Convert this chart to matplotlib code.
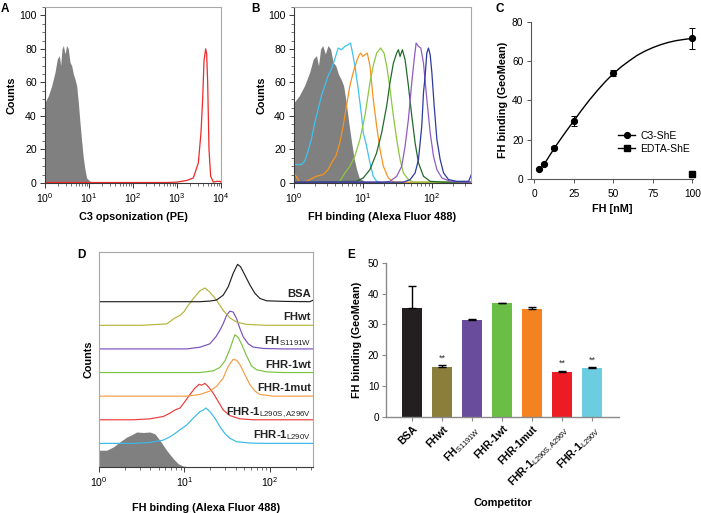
import numpy as np
import matplotlib.pyplot as plt
from matplotlib.ticker import LogLocator, MultipleLocator, NullFormatter, NullLocator

plt.rcParams["font.family"] = ["Liberation Sans", "DejaVu Sans"]
plt.rcParams["mathtext.fontset"] = "custom"
plt.rcParams["mathtext.rm"] = "Liberation Sans"
plt.rcParams["mathtext.bf"] = "Liberation Sans:bold"
plt.rcParams["mathtext.it"] = "Liberation Sans:italic"

W, H = 701, 513
LABEL_SIZE = 7.8
TICK_SIZE = 7.6
PANEL_SIZE = 8.5
DARK = "#3a3a3a"
LIGHT = "#a8a8a8"

# ------------------------------------------------------------------------------------------------------------- #
# Data (histogram positions as log10 of fluorescence intensity)
# ------------------------------------------------------------------------------------------------------------- #
# control histogram shared by A and B
gray_log = [0.0, 0.076, 0.152, 0.227, 0.280, 0.326, 0.356, 0.386, 0.417, 0.455, 0.492, 0.530, 0.568,
            0.606, 0.644, 0.682, 0.720, 0.758, 0.795, 0.833, 0.871, 0.909, 0.947, 1.023, 1.250, 1.477]
gray_counts = [48, 52, 58, 66, 74, 76, 70, 80, 82, 77, 82, 80, 72, 70, 65, 62, 58, 48, 36, 25, 15, 8, 3,
               1, 0.3, 0]

# A: C3 opsonized
c3_log = [0.0, 2.765, 2.992, 3.220, 3.371, 3.485, 3.545, 3.583, 3.614, 3.652, 3.674, 3.697, 3.727,
          3.765, 3.826, 3.902, 3.977, 4.0]
c3_counts = [0.3, 0.3, 0.5, 1.5, 3, 12, 30, 50, 73, 80, 77, 60, 20, 4, 0.5, 1, 1, 0.5]

# B: FH titration
b_cyan_log = [0.0, 0.01, 0.034, 0.107, 0.155, 0.204, 0.252, 0.301, 0.350, 0.398, 0.447, 0.495, 0.544,
              0.592, 0.641, 0.689, 0.738, 0.786, 0.820, 0.850, 0.883, 0.932, 0.981, 1.005, 1.053, 1.102,
              1.150, 1.199, 1.296, 2.57]
b_cyan_counts = [89, 11, 11, 11, 13, 19, 26, 36, 44, 52, 58, 64, 68, 74, 80.5, 79.5, 81.5, 82.5, 83.5,
                 77.5, 70, 56, 40, 30, 22, 12, 4, 1, 0, 0]
b_orange_log = [0.0, 0.083, 0.180, 0.325, 0.422, 0.495, 0.544, 0.607, 0.665, 0.714, 0.762, 0.811, 0.859,
                0.908, 0.947, 0.971, 0.995, 1.029, 1.063, 1.102, 1.150, 1.199, 1.248, 1.296, 1.369, 1.442,
                2.57]
b_orange_counts = [6, 0.5, 1, 4, 5, 8, 12, 16, 24, 34, 46, 58, 66, 72.5, 76.5, 77.5, 75.5, 76.5, 77.5, 70,
                   50, 34, 20, 10, 3, 0.5, 0.5]
b_lgreen_log = [0.0, 0.519, 0.665, 0.738, 0.811, 0.883, 0.956, 1.029, 1.102, 1.150, 1.199, 1.257, 1.306,
                1.345, 1.393, 1.442, 1.490, 1.539, 1.587, 1.660, 1.733, 2.57]
b_lgreen_counts = [0.5, 0.5, 1, 6, 10, 16, 26, 40, 60, 70, 77.5, 80.5, 77.5, 70, 56, 40, 26, 14, 6, 2,
                   0.5, 0.5]
b_dgreen_log = [0.0, 0.908, 1.005, 1.102, 1.199, 1.272, 1.345, 1.393, 1.442, 1.490, 1.515, 1.539, 1.573,
                1.612, 1.660, 1.709, 1.757, 1.806, 1.879, 1.976, 2.170, 2.57]
b_dgreen_counts = [0.5, 1, 3, 8, 18, 30, 46, 60, 71.5, 77.5, 79.5, 75.5, 79.5, 73.5, 58, 40, 24, 12, 4, 1,
                   0.5, 0.5]
b_purple_log = [0.0, 1.296, 1.393, 1.490, 1.563, 1.612, 1.660, 1.709, 1.743, 1.772, 1.806, 1.840, 1.879,
                1.927, 1.976, 2.024, 2.073, 2.146, 2.267, 2.461, 2.57]
b_purple_counts = [0.5, 0.5, 1, 4, 10, 22, 38, 60, 73.5, 83.5, 81.5, 80.5, 71.5, 50, 30, 16, 8, 3, 1,
                   0.5, 0.5]
b_blue_log = [0.0, 1.587, 1.684, 1.757, 1.806, 1.854, 1.879, 1.903, 1.927, 1.951, 1.976, 2.0, 2.034,
              2.073, 2.121, 2.170, 2.243, 2.364, 2.534, 2.573]
b_blue_counts = [0.5, 0.5, 2, 6, 14, 34, 54, 64, 77.5, 80.5, 76.5, 66, 46, 26, 14, 6, 2, 1, 1, 5]

# C: binding curve
fh_nm = [3.125, 6.25, 12.5, 25, 50, 100]
fh_geomean = [5.0, 7.5, 16.0, 29.5, 54.0, 71.5]
fh_err = [0.3, 0.5, 0.8, 2.5, 1.5, 5.5]
edta_nm = [100]
edta_geomean = [2.5]
fit_nm = [3, 5, 7.5, 10, 12.5, 15, 20, 25, 30, 35, 40, 45, 50, 55, 60, 65, 70, 75, 80, 85, 90, 95, 100]
fit_geomean = [4.5, 6.3, 9.0, 12.2, 15.3, 18.3, 24.0, 29.5, 35.0, 40.2, 45.0, 49.5, 53.5, 57.0, 60.0, 62.8,
               65.0, 66.8, 68.3, 69.5, 70.4, 71.0, 71.5]

# D: competition histograms (bottom to top)
d_gray_log = [0.0, 0.006, 0.090, 0.168, 0.246, 0.324, 0.402, 0.441, 0.519, 0.596, 0.655, 0.713, 0.791,
              0.869, 0.928, 0.986, 1.064]
d_gray_counts = [99, 36, 36, 43, 54, 64, 71, 75, 74, 75, 71, 57, 36, 18, 7, 2, 0]
d_l290v_log = [0.0, 0.402, 0.596, 0.752, 0.830, 0.889, 0.947, 1.025, 1.103, 1.181, 1.220, 1.251, 1.298,
               1.357, 1.415, 1.474, 1.532, 1.610, 1.766, 1.961, 2.51]
d_l290v_counts = [0, 0, 2, 7, 14, 21, 29, 39, 54, 68, 71, 76, 68, 54, 36, 21, 11, 3.6, 0.7, 0, 0]
d_l290s_log = [0.0, 0.402, 0.596, 0.752, 0.830, 0.889, 0.947, 1.006, 1.064, 1.123, 1.173, 1.201, 1.240,
               1.279, 1.337, 1.396, 1.454, 1.532, 1.649, 1.805, 2.51]
d_l290s_counts = [0, 0, 2, 7, 14, 21, 25, 39, 54, 68, 76, 74, 78, 71, 57, 39, 21, 9, 2, 0, 0]
d_mut_log = [0.0, 1.025, 1.181, 1.298, 1.376, 1.454, 1.513, 1.571, 1.610, 1.649, 1.708, 1.766, 1.825,
             1.883, 2.039, 2.51]
d_mut_counts = [0, 0, 3.6, 11, 21, 39, 64, 79, 77, 68, 46, 25, 11, 3.6, 0, 0]
d_fhr1wt_log = [0.0, 1.181, 1.337, 1.415, 1.474, 1.532, 1.571, 1.591, 1.630, 1.669, 1.727, 1.786, 1.844,
                1.961, 2.156, 2.51]
d_fhr1wt_counts = [0, 0, 3.6, 11, 25, 50, 71, 81, 75, 61, 36, 14, 6, 1.4, 0, 0]
d_s1191w_log = [0.0, 1.025, 1.181, 1.298, 1.368, 1.415, 1.454, 1.493, 1.532, 1.571, 1.610, 1.649, 1.688,
                1.747, 1.805, 1.922, 2.156, 2.51]
d_s1191w_counts = [0, 0, 3.6, 11, 26, 40, 54, 72, 81, 79, 65, 44, 26, 11, 4, 1, 0, 0]
d_fhwt_log = [0.0, 0.48, 0.635, 0.791, 0.830, 0.889, 0.947, 0.994, 1.045, 1.103, 1.181, 1.240, 1.298,
              1.376, 1.454, 1.532, 1.610, 1.727, 1.961, 2.51]
d_fhwt_counts = [0, 0, 1.4, 3, 8, 16, 21, 29, 43, 57, 74, 80, 71, 54, 32, 16, 7, 2, 0, 0]
d_bsa_log = [0.0, 1.181, 1.298, 1.376, 1.454, 1.513, 1.571, 1.622, 1.657, 1.708, 1.766, 1.825, 1.883,
             1.961, 2.156, 2.468, 2.51]
d_bsa_counts = [0, 0, 1.4, 3.6, 14, 32, 61, 80, 75, 57, 36, 18, 7, 2, 0.7, 0, 3.5]

d_labels = [r"FHR-1$_{\mathrm{L290V}}$", r"FHR-1$_{\mathrm{L290S,A296V}}$", "FHR-1mut", "FHR-1wt",
            r"FH$_{\mathrm{S1191W}}$", "FHwt", "BSA"]
d_colors = ["#3ab8ea", "#ee3b3b", "#f79d45", "#7cc242", "#7a4fc0", "#b3b43c", "#222222"]

# E: competitor bars
competitors = ["BSA", "FHwt", r"FH$_{\mathrm{S1191W}}$", "FHR-1wt", "FHR-1mut",
               r"FHR-1$_{\mathrm{L290S,A296V}}$", r"FHR-1$_{\mathrm{L290V}}$"]
comp_geomean = [35.2, 16.2, 31.4, 36.8, 35.0, 14.6, 15.7]
comp_err = [7.2, 0.6, 0.2, 0.2, 0.7, 0.4, 0.3]
comp_signif = ["", "**", "", "", "", "**", "**"]
comp_colors = ["#231f20", "#8b7d3a", "#6a4c9c", "#6abd45", "#f58220", "#ed1c24", "#6dcde0"]


# ------------------------------------------------------------------------------------------------------------- #
def px_axes(fig, left, top, right, bottom):
    return fig.add_axes([left / W, 1 - bottom / H, (right - left) / W, (bottom - top) / H])


def style_hist_axes(ax, box_color=LIGHT):
    for s in ["top", "right"]:
        ax.spines[s].set_color(box_color)
        ax.spines[s].set_linewidth(0.8)
    for s in ["left", "bottom"]:
        ax.spines[s].set_color(DARK)
        ax.spines[s].set_linewidth(0.8)
    ax.tick_params(which="major", length=3.5, width=0.7, color=DARK, labelsize=TICK_SIZE, pad=2.5)
    ax.tick_params(which="minor", length=2, width=0.5, color=DARK)
    ax.set_xscale("log")
    ax.xaxis.set_major_locator(LogLocator(base=10, numticks=10))
    ax.xaxis.set_minor_locator(LogLocator(base=10, subs=np.arange(2, 10), numticks=10))
    ax.xaxis.set_minor_formatter(NullFormatter())


fig = plt.figure(figsize=(W / 100, H / 100), dpi=100)

# ---------------------------------- A ----------------------------------
axA = px_axes(fig, 45, 7, 221, 183)
style_hist_axes(axA)
axA.fill_between(10 ** np.array(gray_log), gray_counts, color="#808080", lw=0)
axA.plot(10 ** np.array(c3_log), c3_counts, color="#ee2a2a", lw=0.9)
axA.set_xlim(1, 1e4)
axA.set_ylim(0, 105)
axA.yaxis.set_major_locator(MultipleLocator(20))
axA.yaxis.set_minor_locator(MultipleLocator(5))
axA.set_xlabel("C3 opsonization (PE)", fontsize=LABEL_SIZE, fontweight="bold", labelpad=5)
axA.set_ylabel("Counts", fontsize=LABEL_SIZE, fontweight="bold", labelpad=2)

# ---------------------------------- B ----------------------------------
axB = px_axes(fig, 294, 7, 471, 183)
style_hist_axes(axB)
axB.fill_between(10 ** np.array(gray_log), gray_counts, color="#808080", lw=0)
for lg, ct, col in [(b_cyan_log, b_cyan_counts, "#3cc3f0"), (b_orange_log, b_orange_counts, "#f7931e"),
                    (b_lgreen_log, b_lgreen_counts, "#8cc63f"), (b_dgreen_log, b_dgreen_counts, "#1f6b2b"),
                    (b_purple_log, b_purple_counts, "#8e5cc4"), (b_blue_log, b_blue_counts, "#2e3a9e")]:
    axB.plot(10 ** np.array(lg), ct, color=col, lw=0.9)
axB.set_xlim(1, 370)
axB.set_ylim(0, 105)
axB.yaxis.set_major_locator(MultipleLocator(20))
axB.yaxis.set_minor_locator(MultipleLocator(5))
axB.set_xlabel("FH binding (Alexa Fluor 488)", fontsize=LABEL_SIZE, fontweight="bold", labelpad=5)
axB.set_ylabel("Counts", fontsize=LABEL_SIZE, fontweight="bold", labelpad=1)

# ---------------------------------- C ----------------------------------
axC = px_axes(fig, 531, 21.7, 693, 179)
for s in ["top", "right"]:
    axC.spines[s].set_visible(False)
for s in ["left", "bottom"]:
    axC.spines[s].set_color("#555555")
    axC.spines[s].set_linewidth(0.8)
axC.plot(fit_nm, fit_geomean, color="black", lw=1.0)
axC.errorbar(fh_nm, fh_geomean, yerr=fh_err, fmt="o", color="black", ms=4.2, capsize=2.5, elinewidth=0.7,
             capthick=0.7, clip_on=False)
axC.plot(edta_nm, edta_geomean, "s", color="black", ms=4.2, clip_on=False)
axC.set_xlim(-2, 100.5)
axC.set_ylim(0, 80)
axC.set_xticks([0, 25, 50, 75, 100])
axC.set_yticks([0, 20, 40, 60, 80])
axC.tick_params(axis="x", length=3, width=0.7, color="#555555", labelsize=7.3, pad=4)
axC.tick_params(axis="y", length=3, width=0.7, color="#555555", labelsize=7.3, pad=2.5)
lh = [plt.Line2D([], [], color="black", marker="o", ms=4.2, lw=1.0),
      plt.Line2D([], [], color="black", marker="s", ms=4.2, lw=1.0)]
axC.legend(lh, ["C3-ShE", "EDTA-ShE"], loc="lower right", bbox_to_anchor=(1.04, 0.1), frameon=False,
           fontsize=LABEL_SIZE - 0.3, handlelength=1.6, handletextpad=0.5, labelspacing=0.3)
axC.set_xlabel("FH [nM]", fontsize=LABEL_SIZE, fontweight="bold", labelpad=4)
axC.set_ylabel("FH binding (GeoMean)", fontsize=LABEL_SIZE, fontweight="bold", labelpad=3)

# ---------------------------------- D ----------------------------------
axD = px_axes(fig, 99, 252, 313, 467)
style_hist_axes(axD)
axD.spines["left"].set_color(LIGHT)
axD.yaxis.set_major_locator(NullLocator())
axD.yaxis.set_minor_locator(NullLocator())
step = 50.6
axD.fill_between(10 ** np.array(d_gray_log), d_gray_counts, color="#808080", lw=0)
d_series = [(d_l290v_log, d_l290v_counts), (d_l290s_log, d_l290s_counts), (d_mut_log, d_mut_counts),
            (d_fhr1wt_log, d_fhr1wt_counts), (d_s1191w_log, d_s1191w_counts), (d_fhwt_log, d_fhwt_counts),
            (d_bsa_log, d_bsa_counts)]
for i, ((lg, ct), col, lab) in enumerate(zip(d_series, d_colors, d_labels)):
    base = (i + 1) * step
    axD.plot(10 ** np.array(lg), np.array(ct) + base, color=col, lw=0.85)
    axD.text(0.99, base + 10.5, lab, transform=axD.get_yaxis_transform(), ha="right", va="baseline",
             fontsize=8.1, fontweight="bold", color="#222222")
axD.set_xlim(1, 320)
axD.set_ylim(0, 460.7)
axD.set_xlabel("FH binding (Alexa Fluor 488)", fontsize=LABEL_SIZE, fontweight="bold", labelpad=10)
axD.set_ylabel("Counts", fontsize=LABEL_SIZE, fontweight="bold", labelpad=4)

# ---------------------------------- E ----------------------------------
axE = px_axes(fig, 386, 262.7, 619, 416.7)
for s in ["top", "right"]:
    axE.spines[s].set_visible(False)
for s in ["left", "bottom"]:
    axE.spines[s].set_color("#8a8a8a")
    axE.spines[s].set_linewidth(1.0)
xpos = np.arange(len(competitors))
axE.bar(xpos, comp_geomean, width=0.66, color=comp_colors,
        yerr=[np.zeros(len(comp_err)), comp_err], capsize=3.2,
        error_kw=dict(elinewidth=1.0, capthick=1.0, ecolor="black"))
for x, v, e, s in zip(xpos, comp_geomean, comp_err, comp_signif):
    if s:
        axE.text(x, v + e + 0.8, s, ha="center", va="bottom", fontsize=6.5, color="#333333")
axE.set_xlim(-0.88, 6.89)
axE.set_ylim(0, 50)
axE.set_yticks([0, 10, 20, 30, 40, 50])
axE.set_xticks(xpos)
axE.set_xticklabels(competitors, rotation=45, ha="right", va="top", rotation_mode="anchor",
                    fontsize=7.6, fontweight="bold")
axE.tick_params(axis="y", length=3, width=0.8, color="#8a8a8a", labelsize=7.2, pad=2)
axE.tick_params(axis="x", length=3, width=0.8, color="#8a8a8a", pad=2)
axE.set_xlabel("Competitor", fontsize=7.9, fontweight="bold", labelpad=6)
axE.set_ylabel("FH binding (GeoMean)", fontsize=LABEL_SIZE, fontweight="bold", labelpad=4)

# panel letters
for letter, (px, py) in {"A": (1, 3), "B": (251, 3), "C": (495, 3), "D": (77, 249), "E": (347, 249)}.items():
    fig.text(px / W, 1 - py / H, letter, fontsize=PANEL_SIZE, fontweight="bold", va="top", ha="left")

fig.savefig("out.png", dpi=100)
